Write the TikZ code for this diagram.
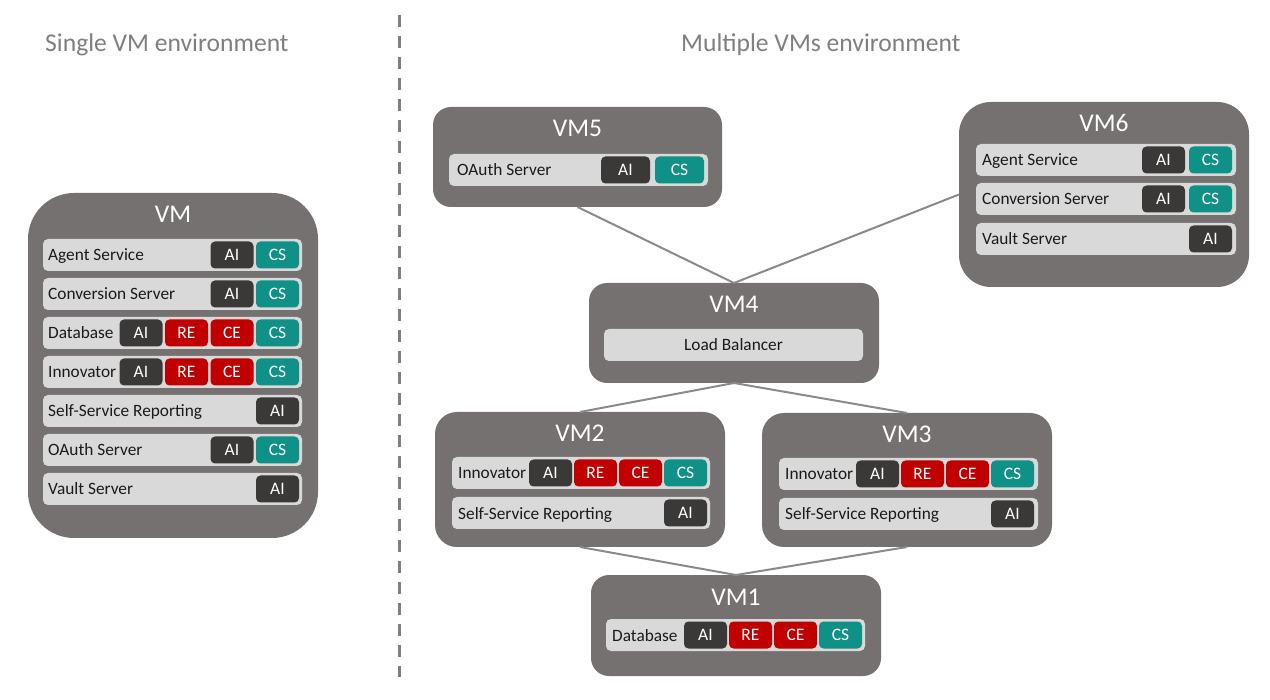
\documentclass[tikz,border=0pt]{standalone}
\usepackage{fontspec}
\setmainfont{Carlito}
\definecolor{vmgray}{HTML}{767171}
\definecolor{bargray}{HTML}{D9D9D9}
\definecolor{aidark}{HTML}{3B3838}
\definecolor{rered}{HTML}{C00000}
\definecolor{csteal}{HTML}{109187}
\definecolor{headgray}{HTML}{7F7F7F}
\definecolor{conngray}{HTML}{8A8A8A}
\definecolor{itemblack}{HTML}{1A1A1A}
\tikzset{
  vmbox/.style={fill=vmgray, draw=none, rounded corners=#1, inner sep=0pt, outer sep=0pt},
  vmtitle/.style={text=white, font=\fontsize{25.5}{30}\selectfont, inner sep=0pt},
  bar/.style={fill=bargray, draw=none, rounded corners=5pt, inner sep=0pt, outer sep=0pt},
  itemtext/.style={text=itemblack, font=\fontsize{17.3}{20}\selectfont, inner sep=0pt},
  badge/.style={draw=none, rounded corners=4.5pt, inner sep=0pt, outer sep=0pt,
    minimum height=27pt, text height=11pt, text depth=0pt, text=white,
    font=\fontsize{17.5}{20}\selectfont},
  header/.style={text=headgray, font=\fontsize{25.6}{30}\selectfont, inner sep=0pt},
  conn/.style={draw=conngray, line width=2pt},
  divider/.style={draw=headgray, line width=3pt, dash pattern=on 12pt off 9pt}
}
% #1 name, #2 left, #3 top, #4 right, #5 bottom, #6 radius, #7 title
\newcommand{\vmachine}[7]{%
  \node[vmbox=#6, minimum width={#4-#2}, minimum height={#5-#3}] (#1) at ({(#2+#4)/2},{(#3+#5)/2}) {};
  \node[vmtitle, anchor=base] (#1t) at ({(#2+#4)/2},{#3+30}) {#7};
}
% #1 name, #2 left, #3 top, #4 right, #5 bottom, #6 label, #7 text offset
\newcommand{\itembar}[7]{%
  \node[bar, minimum width={#4-#2}, minimum height={#5-#3}] (#1) at ({(#2+#4)/2},{(#3+#5)/2}) {};
  \node[itemtext, anchor=base west] (#1t) at ({#2+#7},{(#3+#5)/2+6}) {#6};
}
% #1 prefix, #2 right x, #3 center y, #4 width, #5 pitch, #6 list colour/text (right to left)
\newcommand{\badges}[6]{%
  \foreach \col/\txt [count=\i] in {#6} {
    \node[badge, fill=\col, minimum width={#4}] (#1\i) at ({#2-#4/2-(\i-1)*#5},#3) {\txt};
  }
}
\begin{document}
\begin{tikzpicture}[x=1pt,y=-1pt]
\useasboundingbox[fill=white] (0,0) rectangle (1270,700);

% headers
\node[header, anchor=base west] (h1) at (45,52) {Single VM environment};
\node[header, anchor=base west] (h2) at (681,52) {Multiple VMs environment};

% divider
\coordinate (dtop) at (399,15);
\coordinate (dbot) at (399,677);
\draw[divider] (dtop) -- (dbot);

% ---------- single VM ----------
\vmachine{vm}{28}{193}{318}{538}{46pt}{VM}
\itembar{s1}{43}{239}{302}{271}{Agent Service}{5}
\badges{s1b}{299}{255}{43}{45.5}{csteal/CS,aidark/AI}
\itembar{s2}{43}{278}{302}{310}{Conversion Server}{5}
\badges{s2b}{299}{294}{43}{45.5}{csteal/CS,aidark/AI}
\itembar{s3}{43}{317}{302}{349}{Database}{5}
\badges{s3b}{299}{333}{43}{45.5}{csteal/CS,rered/CE,rered/RE,aidark/AI}
\itembar{s4}{43}{356}{302}{388}{Innovator}{5}
\badges{s4b}{299}{372}{43}{45.5}{csteal/CS,rered/CE,rered/RE,aidark/AI}
\itembar{s5}{43}{395}{302}{427}{Self-Service Reporting}{5}
\badges{s5b}{299}{411}{43}{45.5}{aidark/AI}
\itembar{s6}{43}{434}{302}{466}{OAuth Server}{5}
\badges{s6b}{299}{450}{43}{45.5}{csteal/CS,aidark/AI}
\itembar{s7}{43}{473}{302}{505}{Vault Server}{5}
\badges{s7b}{299}{489}{43}{45.5}{aidark/AI}

% ---------- multiple VMs ----------
\vmachine{vm5}{433}{107}{722}{207}{18pt}{VM5}
\itembar{m5a}{449}{154}{708}{186}{OAuth Server}{8}
\badges{m5ab}{704}{170}{49}{54}{csteal/CS,aidark/AI}

\vmachine{vm6}{959}{102}{1249}{287}{32pt}{VM6}
\itembar{m6a}{976}{144}{1236}{176}{Agent Service}{6}
\badges{m6ab}{1232}{160}{43}{47}{csteal/CS,aidark/AI}
\itembar{m6b}{976}{183}{1236}{215}{Conversion Server}{6}
\badges{m6bb}{1232}{199}{43}{47}{csteal/CS,aidark/AI}
\itembar{m6c}{976}{223}{1236}{255}{Vault Server}{6}
\badges{m6cb}{1232}{239}{43}{47}{aidark/AI}

\vmachine{vm4}{589}{283}{879}{383}{18pt}{VM4}
\node[bar, minimum width=259, minimum height=32] (m4a) at (733.5,345) {};
\node[itemtext, anchor=base] (m4at) at (733.5,351) {Load Balancer};

\vmachine{vm2}{435}{412}{725}{547}{22pt}{VM2}
\itembar{m2a}{452}{457}{710}{489}{Innovator}{6}
\badges{m2ab}{707}{473}{43}{45}{csteal/CS,rered/CE,rered/RE,aidark/AI}
\itembar{m2b}{452}{497}{710}{529}{Self-Service Reporting}{6}
\badges{m2bb}{707}{513}{43}{45}{aidark/AI}

\vmachine{vm3}{762}{413}{1052}{547}{22pt}{VM3}
\itembar{m3a}{779}{458}{1038}{490}{Innovator}{6}
\badges{m3ab}{1034}{474}{43}{45}{csteal/CS,rered/CE,rered/RE,aidark/AI}
\itembar{m3b}{779}{498}{1038}{530}{Self-Service Reporting}{6}
\badges{m3bb}{1034}{514}{43}{45}{aidark/AI}

\vmachine{vm1}{591}{575}{881}{676}{18pt}{VM1}
\itembar{m1a}{606}{619}{865}{651}{Database}{6}
\badges{m1ab}{862}{635}{43}{45}{csteal/CS,rered/CE,rered/RE,aidark/AI}

% connectors
\draw[conn] (vm5.south) -- (vm4.north);
\draw[conn] (vm6.west) -- (vm4.north);
\draw[conn] (vm4.south) -- (vm2.north);
\draw[conn] (vm4.south) -- (vm3.north);
\draw[conn] (vm2.south) -- (vm1.north);
\draw[conn] (vm3.south) -- (vm1.north);
\end{tikzpicture}
\end{document}
